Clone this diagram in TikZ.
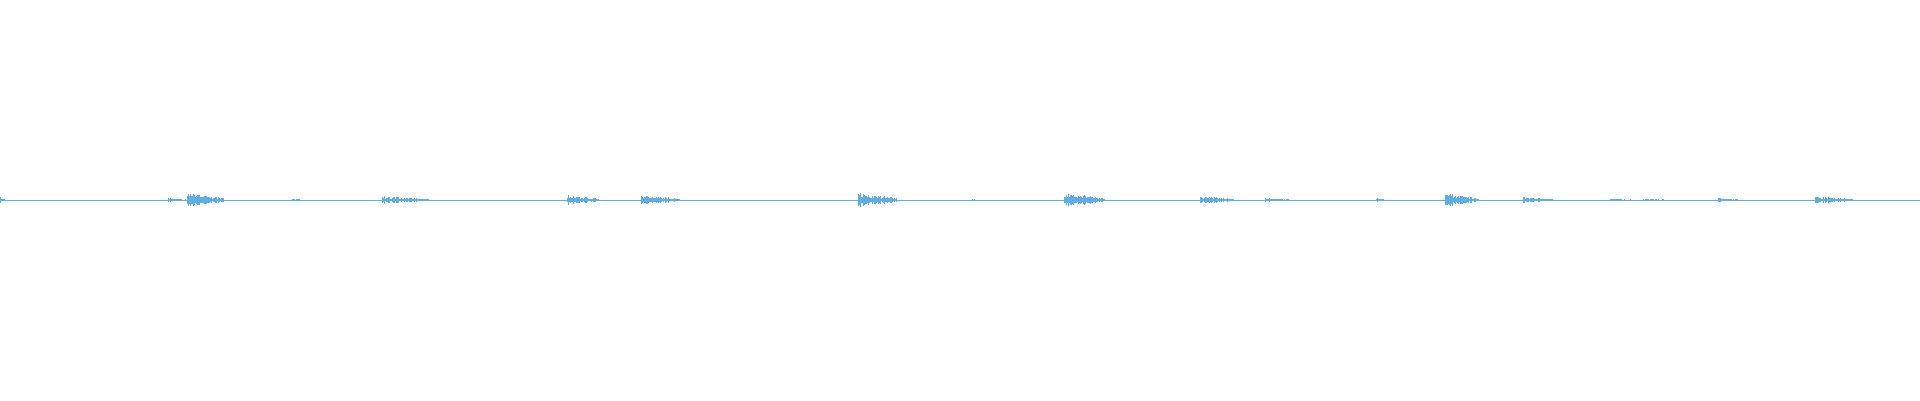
\documentclass[tikz,border=0pt]{standalone}
\usepackage{tikz}

\definecolor{wave}{HTML}{5FADE3}

\tikzset{
    wavestyle/.style={draw=wave, line width=1pt},
    spikestyle/.style={draw=wave, line width=0.9pt}
}

% burst of spikes from #1 to #2 with peak height #3
\newcommand{\wburst}[3]{%
    \foreach \px in {#1,...,#2}{%
        \pgfmathsetmacro{\decay}{1-0.7*(\px-#1)/(#2-#1+1)}
        \pgfmathsetmacro{\amp}{#3*\decay*(0.35+0.65*rnd)}
        \draw[spikestyle] (\px,200-\amp) -- (\px,200+\amp);
    }%
}

\begin{document}
\begin{tikzpicture}[x=1pt,y=1pt]
    \pgfmathsetseed{7}
    \useasboundingbox (0,0) rectangle (1920,400);

    % base line
    \draw[wavestyle] (0,200) -- (1920,200);

    % bursts
    \wburst{0}{4}{3}
    \wburst{168}{186}{2}
    \wburst{187}{223}{7}
    \wburst{292}{299}{1.5}
    \wburst{382}{428}{4}
    \wburst{567}{598}{5}
    \wburst{641}{679}{5}
    \wburst{858}{896}{7}
    \wburst{970}{977}{1}
    \wburst{1064}{1104}{7}
    \wburst{1200}{1233}{4}
    \wburst{1265}{1289}{2}
    \wburst{1376}{1383}{2}
    \wburst{1445}{1478}{7}
    \wburst{1523}{1552}{3}
    \wburst{1610}{1633}{1.5}
    \wburst{1643}{1677}{1}
    \wburst{1718}{1737}{2}
    \wburst{1815}{1852}{4}
\end{tikzpicture}
\end{document}
